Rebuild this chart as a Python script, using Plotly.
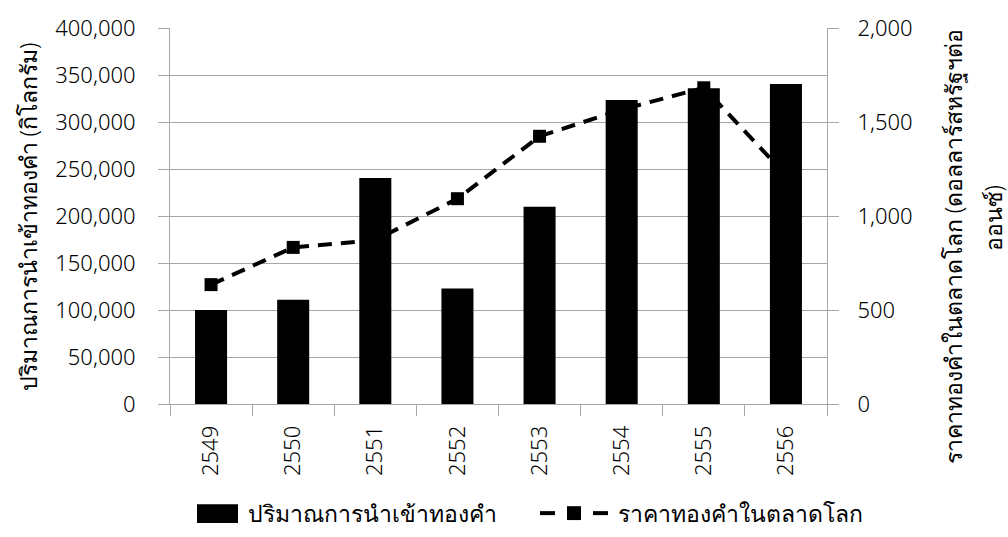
import plotly.graph_objects as go

years = ["2549", "2550", "2551", "2552", "2553", "2554", "2555", "2556"]
import_kg = [100000, 111000, 240500, 123000, 209800, 323500, 336000, 340500]
gold_price = [635, 833, 872, 1092, 1424, 1566, 1682, 1218]

bar_name = "ปริมาณการนำเข้าทองคำ"
line_name = "ราคาทองคำในตลาดโลก"
left_title = "ปริมาณการนำเข้าทองคำ (กิโลกรัม)"
right_title_1 = "ราคาทองคำในตลาดโลก (ดอลลาร์สหรัฐฯต่อ"
right_title_2 = "ออนซ์)"

FONT = "Noto Sans, DejaVu Sans, sans-serif"
GRID = "#a6a6a6"
TICK_SIZE = 22
THAI_SIZE = 23
WEIGHT = 300

# plot area in pixels (layout only)
L, R, T, B = 170, 827, 25, 404
W, H = 1008, 537


def px(x):
    return (x - L) / (R - L)


def py(y):
    return (B - y) / (B - T)


fig = go.Figure()
# bars on the overlaying axis so they are drawn above the line
fig.add_trace(go.Bar(
    x=years, y=import_kg, name=bar_name, yaxis="y2",
    marker=dict(color="black", line=dict(width=0)), width=0.39,
    showlegend=False,
))
fig.add_trace(go.Scatter(
    x=years, y=gold_price, name=line_name, yaxis="y", mode="lines+markers",
    line=dict(color="black", width=4, dash="14px,9px"),
    marker=dict(symbol="square", size=13, color="black"),
    showlegend=False,
))

# custom legend (layout decoration)
leg_y = 514
shapes = [
    dict(type="rect", xref="paper", yref="paper", x0=px(197), x1=px(238),
         y0=py(524), y1=py(505), fillcolor="black", line=dict(width=0)),
    dict(type="line", xref="paper", yref="paper", x0=px(540), x1=px(555),
         y0=py(leg_y), y1=py(leg_y), line=dict(color="black", width=4)),
    dict(type="rect", xref="paper", yref="paper", x0=px(567), x1=px(581),
         y0=py(521), y1=py(507), fillcolor="black", line=dict(width=0)),
    dict(type="line", xref="paper", yref="paper", x0=px(593), x1=px(608),
         y0=py(leg_y), y1=py(leg_y), line=dict(color="black", width=4)),
]

tf = dict(size=TICK_SIZE, weight=WEIGHT)
af = dict(size=THAI_SIZE, weight=WEIGHT)

fig.update_layout(
    width=W, height=H,
    margin=dict(l=L, r=W - R, t=T, b=H - B),
    paper_bgcolor="white", plot_bgcolor="white",
    font=dict(family=FONT, size=TICK_SIZE, color="black", weight=WEIGHT),
    showlegend=False,
    xaxis=dict(
        type="category", showline=True, linecolor=GRID, linewidth=1,
        ticks="outside", tickson="boundaries", ticklen=11, tickcolor=GRID,
        tickangle=-90, tickfont=tf, showgrid=False,
        range=[-0.5, 7.5], ticklabelstandoff=12,
    ),
    yaxis=dict(
        side="right", range=[0, 2000], dtick=500, tickformat=",d",
        showgrid=False, showline=True, linecolor=GRID, linewidth=1,
        ticks="outside", ticklen=11, tickcolor=GRID, zeroline=False,
        tickfont=tf, ticklabelstandoff=14,
    ),
    yaxis2=dict(
        side="left", overlaying="y", range=[0, 400000], dtick=50000, tickformat=",d",
        showgrid=True, gridcolor=GRID, gridwidth=1, showline=True, linecolor=GRID,
        linewidth=1, ticks="outside", ticklen=11, tickcolor=GRID, zeroline=False,
        tickfont=tf, ticklabelstandoff=18,
    ),
    shapes=shapes,
    annotations=[
        dict(text=left_title, xref="paper", yref="paper", x=px(28), y=py(216),
             xanchor="center", yanchor="middle", textangle=-90, showarrow=False,
             font=af),
        dict(text=right_title_1, xref="paper", yref="paper", x=px(953), y=py(246),
             xanchor="center", yanchor="middle", textangle=-90, showarrow=False,
             font=af),
        dict(text=right_title_2, xref="paper", yref="paper", x=px(993), y=py(217),
             xanchor="center", yanchor="middle", textangle=-90, showarrow=False,
             font=af),
        dict(text=bar_name, xref="paper", yref="paper", x=px(246), y=py(leg_y),
             xanchor="left", yanchor="middle", showarrow=False,
             font=af),
        dict(text=line_name, xref="paper", yref="paper", x=px(616), y=py(leg_y),
             xanchor="left", yanchor="middle", showarrow=False,
             font=af),
    ],
)

fig.write_html("out.html")
